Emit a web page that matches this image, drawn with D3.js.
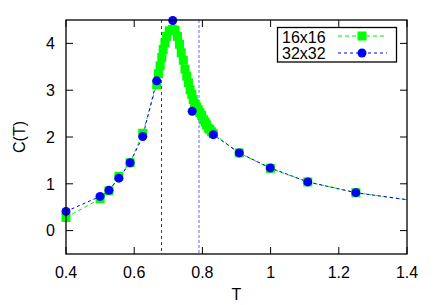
<!DOCTYPE html>
<html>
<head>
<meta charset="utf-8">
<script src="https://cdn.jsdelivr.net/npm/d3@7/dist/d3.min.js"></script>
<style>
  body { margin: 0; background: #fff; }
  text { font-family: "Liberation Sans", Arial, sans-serif; }
</style>
</head>
<body>
<svg id="chart" width="436" height="305"></svg>
<script>
///////////////////////////////////////////
// Data
///////////////////////////////////////////
var t16 = [0.4, 0.5, 0.526, 0.555, 0.588, 0.625, 0.666, 0.671, 0.676, 0.681, 0.685, 0.69,
           0.695, 0.703, 0.712, 0.72, 0.727, 0.733, 0.738, 0.744, 0.749, 0.754, 0.759, 0.764,
           0.769, 0.773, 0.778, 0.783, 0.788, 0.793, 0.798, 0.803, 0.808, 0.812, 0.817, 0.822,
           0.827, 0.832, 0.908, 0.999, 1.109, 1.25, 1.43];
var c16 = [0.28, 0.68, 0.85, 1.16, 1.45, 2.08, 3.12, 3.35, 3.52, 3.70, 3.87, 4.01,
           4.15, 4.27, 4.30, 4.28, 4.15, 3.98, 3.80, 3.64, 3.45, 3.30, 3.16, 3.01,
           2.91, 2.80, 2.71, 2.64, 2.58, 2.52, 2.46, 2.37, 2.32, 2.26, 2.19, 2.16,
           2.11, 2.07, 1.66, 1.33, 1.04, 0.81, 0.63];

var t32 = [0.4, 0.5, 0.526, 0.555, 0.588, 0.625, 0.666, 0.713, 0.77, 0.832, 0.908, 0.999, 1.109, 1.25, 1.43];
var c32 = [0.41, 0.73, 0.86, 1.12, 1.45, 2.01, 3.2, 4.49, 2.55, 2.05, 1.66, 1.34, 1.04, 0.81, 0.63];

var xTicks = [0.4, 0.6, 0.8, 1, 1.2, 1.4];
var yTicks = [0, 1, 2, 3, 4];
var vLines = [0.68, 0.79];
var seriesNames = ["16x16", "32x32"];

///////////////////////////////////////////
// Setup
///////////////////////////////////////////
var svg = d3.select("#chart");
var pL = 66, pR = 407, pT = 20, pB = 254;

var x = d3.scaleLinear().domain([0.4, 1.4]).range([pL, pR]);
var y = d3.scaleLinear().domain([-0.5, 4.5]).range([pB, pT]);

function zip(ts, cs) {
    return ts.map(function(t, i) { return { t: t, c: cs[i] }; });
}
var d16 = zip(t16, c16);
var d32 = zip(t32, c32);

function inside(d) { return d.t >= 0.4 && d.t <= 1.4; }

svg.append("clipPath").attr("id", "plot-clip")
  .append("rect")
    .attr("x", pL).attr("y", pT)
    .attr("width", pR - pL).attr("height", pB - pT);

///////////////////////////////////////////
// Vertical reference lines
///////////////////////////////////////////
svg.append("line")
    .attr("x1", x(vLines[0])).attr("x2", x(vLines[0]))
    .attr("y1", pT).attr("y2", pB)
    .attr("stroke", "#2a2ad0").attr("stroke-width", 1)
    .attr("stroke-dasharray", "3,3");

svg.append("line")
    .attr("x1", x(vLines[1])).attr("x2", x(vLines[1]))
    .attr("y1", pT).attr("y2", pB)
    .attr("stroke", "#9a9aff").attr("stroke-width", 1.5)
    .attr("stroke-dasharray", "3,2");

///////////////////////////////////////////
// Series
///////////////////////////////////////////
var line = d3.line().x(function(d) { return x(d.t); }).y(function(d) { return y(d.c); });

svg.append("path").datum(d16)
    .attr("clip-path", "url(#plot-clip)")
    .attr("d", line)
    .attr("fill", "none").attr("stroke", "#00ee00").attr("stroke-width", 1)
    .attr("stroke-dasharray", "4,3");

svg.append("path").datum(d32)
    .attr("clip-path", "url(#plot-clip)")
    .attr("d", line)
    .attr("fill", "none").attr("stroke", "#0000ff").attr("stroke-width", 1)
    .attr("stroke-dasharray", "3,3");

svg.selectAll(".sq").data(d16.filter(inside)).enter().append("rect")
    .attr("class", "sq")
    .attr("x", function(d) { return x(d.t) - 4.5; })
    .attr("y", function(d) { return y(d.c) - 4.5; })
    .attr("width", 9).attr("height", 9)
    .attr("fill", "#00ff00");

svg.selectAll(".dot").data(d32.filter(inside)).enter().append("circle")
    .attr("class", "dot")
    .attr("cx", function(d) { return x(d.t); })
    .attr("cy", function(d) { return y(d.c); })
    .attr("r", 4.5)
    .attr("fill", "#0000ff");

///////////////////////////////////////////
// Frame, ticks, labels
///////////////////////////////////////////
svg.append("rect")
    .attr("x", pL).attr("y", pT)
    .attr("width", pR - pL).attr("height", pB - pT)
    .attr("fill", "none").attr("stroke", "#000").attr("stroke-width", 1.3);

var tk = 7;
xTicks.forEach(function(v) {
    svg.append("line").attr("x1", x(v)).attr("x2", x(v)).attr("y1", pB).attr("y2", pB - tk)
        .attr("stroke", "#000");
    svg.append("line").attr("x1", x(v)).attr("x2", x(v)).attr("y1", pT).attr("y2", pT + tk)
        .attr("stroke", "#000");
    svg.append("text").attr("x", x(v)).attr("y", 278)
        .attr("text-anchor", "middle").attr("font-size", 16)
        .text(d3.format("")(v));
});

yTicks.forEach(function(v) {
    svg.append("line").attr("x1", pL).attr("x2", pL + tk).attr("y1", y(v)).attr("y2", y(v))
        .attr("stroke", "#000");
    svg.append("line").attr("x1", pR).attr("x2", pR - tk).attr("y1", y(v)).attr("y2", y(v))
        .attr("stroke", "#000");
    svg.append("text").attr("x", 55).attr("y", y(v)).attr("dy", "0.36em")
        .attr("text-anchor", "end").attr("font-size", 16)
        .text(v);
});

svg.append("text").attr("x", (pL + pR) / 2).attr("y", 300)
    .attr("text-anchor", "middle").attr("font-size", 16).text("T");

svg.append("text").attr("transform", "translate(25," + ((pT + pB) / 2) + ") rotate(-90)")
    .attr("text-anchor", "middle").attr("font-size", 16).text("C(T)");

///////////////////////////////////////////
// Legend
///////////////////////////////////////////
var lg = svg.append("g");
lg.append("rect").attr("x", 277.5).attr("y", 27.5).attr("width", 119).attr("height", 34.5)
    .attr("fill", "#fff").attr("stroke", "#000").attr("stroke-width", 1.3);

lg.append("text").attr("x", 282).attr("y", 43).attr("font-size", 16).text(seriesNames[0]);
lg.append("text").attr("x", 282).attr("y", 59).attr("font-size", 16).text(seriesNames[1]);

lg.append("line").attr("x1", 338).attr("x2", 387).attr("y1", 36).attr("y2", 36)
    .attr("stroke", "#00ee00").attr("stroke-dasharray", "4,3");
lg.append("rect").attr("x", 362 - 4.5).attr("y", 36 - 4.5).attr("width", 9).attr("height", 9)
    .attr("fill", "#00ff00");

lg.append("line").attr("x1", 338).attr("x2", 387).attr("y1", 53).attr("y2", 53)
    .attr("stroke", "#0000ff").attr("stroke-dasharray", "3,3");
lg.append("circle").attr("cx", 362).attr("cy", 53).attr("r", 4.5).attr("fill", "#0000ff");
</script>
</body>
</html>
